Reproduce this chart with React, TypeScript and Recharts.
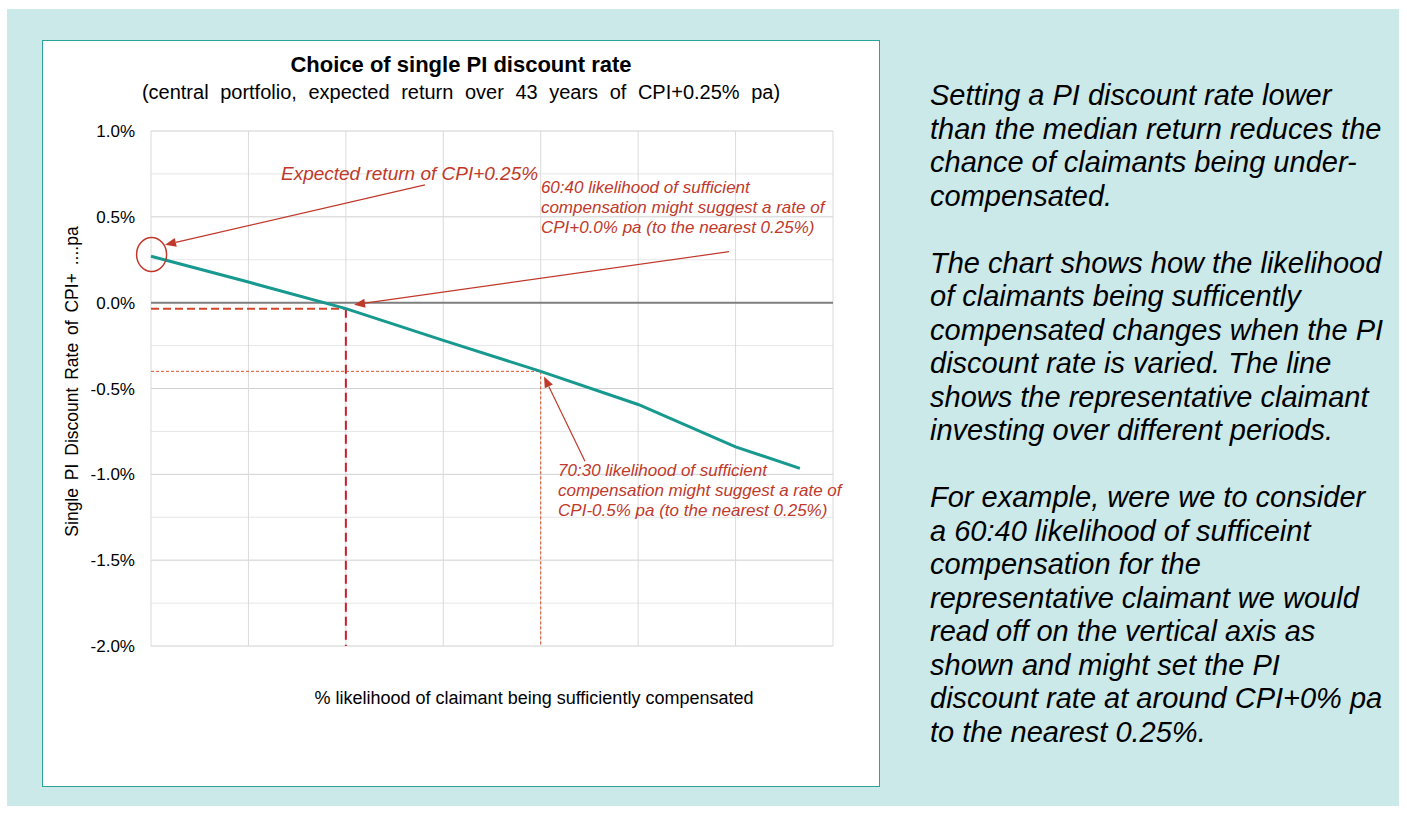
import React from 'react';
import { LineChart, Line, XAxis, YAxis, CartesianGrid, ReferenceLine, ReferenceDot } from 'recharts';

// ---- data ----
const likelihood = [50, 55, 60, 65, 70, 75, 80, 83.3];
const discountRate = [0.27, 0.12, -0.035, -0.22, -0.4, -0.593, -0.84, -0.965];
const yTicks = [-2, -1.5, -1, -0.5, 0, 0.5, 1];
const yMinorGrid = [-1.75, -1.25, -0.75, -0.25, 0.25, 0.75];
const xGrid = [50, 55, 60, 65, 70, 75, 80, 85];

const read6040 = { x: 60, y: -0.035 };
const read7030 = { x: 70, y: -0.4 };
const expectedPoint = { x: 50.03, y: 0.28 };

const arrowExpected = [{ x: 64.06, y: 0.686 }, { x: 50.72, y: 0.337 }];
const arrow6040 = [{ x: 79.66, y: 0.297 }, { x: 60.42, y: -0.012 }];
const arrow7030 = [{ x: 72.27, y: -0.924 }, { x: 70.17, y: -0.43 }];

const noteExpected = { x: 56.67, y: 0.715, lines: ['Expected return of CPI+0.25%'] };
const note6040 = {
  x: 70.01,
  y: 0.64,
  lines: ['60:40 likelihood of sufficient', 'compensation might suggest a rate of', 'CPI+0.0% pa (to the nearest 0.25%)'],
};
const note7030 = {
  x: 70.89,
  y: -1.012,
  lines: ['70:30 likelihood of sufficient', 'compensation might suggest a rate of', 'CPI-0.5% pa (to the nearest 0.25%)'],
};

const title = 'Choice of single PI discount rate';
const subtitle = '(central portfolio, expected return over 43 years of CPI+0.25% pa)';
const xLabel = '% likelihood of claimant being sufficiently compensated';
const yLabel = 'Single PI Discount Rate of CPI+ ....pa';

const sideParagraphs = [
  ['Setting a PI discount rate lower', 'than the median return reduces the', 'chance of claimants being under-', 'compensated.'],
  [
    'The chart shows how the likelihood',
    'of claimants being sufficently',
    'compensated changes when the PI',
    'discount rate is varied. The line',
    'shows the representative claimant',
    'investing over different periods.',
  ],
  [
    'For example, were we to consider',
    'a 60:40 likelihood of sufficeint',
    'compensation for the',
    'representative claimant we would',
    'read off on the vertical axis as',
    'shown and might set the PI',
    'discount rate at around CPI+0% pa',
    'to the nearest 0.25%.',
  ],
];

const data = likelihood.map((x, i) => ({ x, rate: discountRate[i] }));

const FONT = '"Liberation Sans", Arial, Helvetica, sans-serif';
const RED = '#C0392B';
const TEAL = '#17998F';

const arrowShape = (color: string) => (props: any) => {
  const { x1, y1, x2, y2 } = props;
  const ang = Math.atan2(y2 - y1, x2 - x1);
  const L = 11;
  const W = 4.5;
  const bx = x2 - L * Math.cos(ang);
  const by = y2 - L * Math.sin(ang);
  const p1 = `${bx + W * Math.sin(ang)},${by - W * Math.cos(ang)}`;
  const p2 = `${bx - W * Math.sin(ang)},${by + W * Math.cos(ang)}`;
  return (
    <g>
      <line x1={x1} y1={y1} x2={bx} y2={by} stroke={color} strokeWidth={1.2} />
      <polygon points={`${x2},${y2} ${p1} ${p2}`} fill={color} />
    </g>
  );
};

const noteShape = (lines: string[], size: number, lineGap: number) => (props: any) => {
  const { cx, cy } = props;
  return (
    <text x={cx} y={cy} fill={RED} fontSize={size} fontStyle="italic" fontFamily={FONT}>
      {lines.map((l, i) => (
        <tspan key={i} x={cx} y={cy + i * lineGap}>
          {l}
        </tspan>
      ))}
    </text>
  );
};

const ellipseShape = (props: any) => {
  const { cx, cy } = props;
  return <ellipse cx={cx} cy={cy} rx={15} ry={17} fill="none" stroke={RED} strokeWidth={1.5} />;
};

export default function App() {
  return (
    <div style={{ position: 'absolute', left: 0, top: 0, width: 1407, height: 814, background: '#ffffff', overflow: 'hidden' }}>
      <div style={{ position: 'absolute', left: 7, top: 9, width: 1392, height: 797, background: '#CCE9E9' }} />
      <div
        style={{
          position: 'absolute',
          left: 42,
          top: 40,
          width: 838,
          height: 747,
          background: '#ffffff',
          boxSizing: 'border-box',
          border: '1.5px solid #2AA39A',
        }}
      >
        <div style={{ position: 'absolute', left: -1.5, top: -1.5 }}>
          <LineChart width={838} height={747} data={data} margin={{ top: 91, right: 47, left: 29, bottom: 0 }}>
            <CartesianGrid stroke="#D0D0D0" strokeWidth={1} vertical={false} />
            {yMinorGrid.map((v) => (
              <ReferenceLine key={`hy${v}`} y={v} stroke="#E6E6E6" strokeWidth={1} />
            ))}
            {xGrid.map((v) => (
              <ReferenceLine key={`vx${v}`} x={v} stroke="#DADADA" strokeWidth={1} />
            ))}
            <XAxis
              dataKey="x"
              type="number"
              domain={[50, 85]}
              ticks={xGrid}
              tick={false}
              tickLine={false}
              axisLine={false}
              height={141}
              label={{
                content: (p: any) => {
                  const vb = p.viewBox;
                  return (
                    <text x={vb.x + vb.width / 2 + 42} y={vb.y + 58} textAnchor="middle" fontSize={18} fontFamily={FONT} fill="#000">
                      {xLabel}
                    </text>
                  );
                },
              }}
            />
            <YAxis
              type="number"
              domain={[-2, 1]}
              ticks={yTicks}
              interval={0}
              width={80}
              tickLine={false}
              axisLine={false}
              tickMargin={10}
              tick={{ fontSize: 17, fontFamily: FONT, fill: '#000' }}
              tickFormatter={(v: number) => `${v.toFixed(1)}%`}
              label={{
                content: (p: any) => {
                  const vb = p.viewBox;
                  const cx = vb.x + 7;
                  const cy = vb.y + vb.height / 2 - 7;
                  return (
                    <text
                      x={cx}
                      y={cy}
                      transform={`rotate(-90, ${cx}, ${cy})`}
                      textAnchor="middle"
                      fontSize={17.5}
                      wordSpacing={3}
                      fontFamily={FONT}
                      fill="#000"
                    >
                      {yLabel}
                    </text>
                  );
                },
              }}
            />
            <ReferenceLine y={0} stroke="#7F7F7F" strokeWidth={2} />
            <ReferenceLine
              segment={[{ x: 50, y: read6040.y }, { x: read6040.x, y: read6040.y }]}
              stroke="#D4452A"
              strokeWidth={2}
              strokeDasharray="8 4"
            />
            <ReferenceLine
              segment={[{ x: read6040.x, y: read6040.y }, { x: read6040.x, y: -2 }]}
              stroke="#C81E2E"
              strokeWidth={2}
              strokeDasharray="9 5"
            />
            <ReferenceLine
              segment={[{ x: 50, y: read7030.y }, { x: read7030.x, y: read7030.y }]}
              stroke="#D9542E"
              strokeWidth={1}
              strokeDasharray="3 2"
            />
            <ReferenceLine
              segment={[{ x: read7030.x, y: read7030.y }, { x: read7030.x, y: -2 }]}
              stroke="#D9542E"
              strokeWidth={1}
              strokeDasharray="3 2"
            />
            <Line type="linear" dataKey="rate" stroke={TEAL} strokeWidth={3} dot={false} isAnimationActive={false} />
            <ReferenceDot x={expectedPoint.x} y={expectedPoint.y} r={15} ifOverflow="visible" shape={ellipseShape} />
            <ReferenceLine segment={arrowExpected} ifOverflow="visible" shape={arrowShape(RED)} />
            <ReferenceLine segment={arrow6040} ifOverflow="visible" shape={arrowShape(RED)} />
            <ReferenceLine segment={arrow7030} ifOverflow="visible" shape={arrowShape(RED)} />
            <ReferenceDot x={noteExpected.x} y={noteExpected.y} r={1} ifOverflow="visible" shape={noteShape(noteExpected.lines, 19, 22)} />
            <ReferenceDot x={note6040.x} y={note6040.y} r={1} ifOverflow="visible" shape={noteShape(note6040.lines, 17, 20)} />
            <ReferenceDot x={note7030.x} y={note7030.y} r={1} ifOverflow="visible" shape={noteShape(note7030.lines, 17, 20)} />
          </LineChart>
        </div>
      </div>
      <svg width={1407} height={814} style={{ position: 'absolute', left: 0, top: 0, pointerEvents: 'none' }}>
        <text x={461} y={72} textAnchor="middle" fontSize={22} fontWeight="bold" fontFamily={FONT} fill="#000">
          {title}
        </text>
        <text x={461} y={99} textAnchor="middle" fontSize={20} wordSpacing={6} fontFamily={FONT} fill="#000">
          {subtitle}
        </text>
        {(() => {
          const out: React.ReactNode[] = [];
          let row = 0;
          sideParagraphs.forEach((para, pi) => {
            para.forEach((line, li) => {
              out.push(
                <text key={`${pi}-${li}`} x={930} y={105 + row * 33.5} fontSize={29} fontStyle="italic" fontFamily={FONT} fill="#000">
                  {line}
                </text>
              );
              row += 1;
            });
            row += 1;
          });
          return out;
        })()}
      </svg>
    </div>
  );
}
